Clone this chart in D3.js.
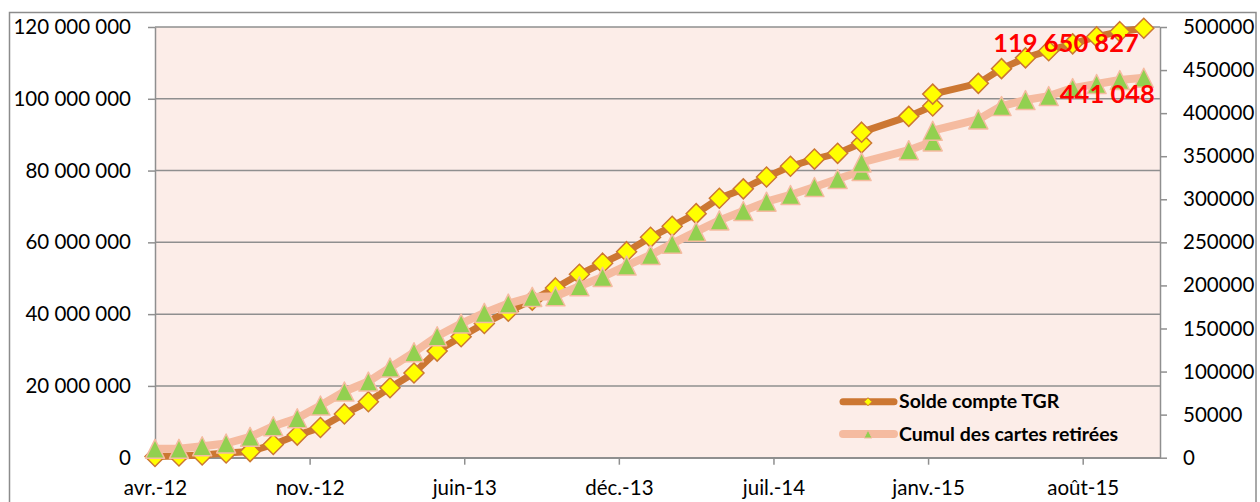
<!DOCTYPE html>
<html><head><meta charset="utf-8">
<script src="https://cdn.jsdelivr.net/npm/d3@7"></script>
<style>body{margin:0;background:#fff;}svg{display:block;}</style>
</head><body>
<svg id="c" width="1260" height="502"></svg>
<script>
// ---- data ----
const dates = ["2012-04-30","2012-05-31","2012-06-30","2012-07-31","2012-08-31","2012-09-30","2012-10-31","2012-11-30","2012-12-31",
  "2013-01-31","2013-02-28","2013-03-31","2013-04-30","2013-05-31","2013-06-30","2013-07-31","2013-08-31","2013-09-30","2013-10-31","2013-11-30","2013-12-31",
  "2014-01-31","2014-02-28","2014-03-31","2014-04-30","2014-05-31","2014-06-30","2014-07-31","2014-08-31","2014-09-30","2014-10-31","2014-10-31","2014-12-31",
  "2015-01-31","2015-01-31","2015-03-31","2015-04-30","2015-05-31","2015-06-30","2015-07-31","2015-08-31","2015-09-30","2015-10-31"];
const solde = [330000,470000,750000,1300000,1700000,3700000,6300000,8400000,12200000,15600000,19500000,23600000,29700000,33700000,
  37400000,40800000,43900000,47300000,51100000,54200000,57400000,61400000,64500000,68000000,72300000,74900000,78200000,81200000,
  83200000,84800000,87700000,90700000,95100000,98000000,101300000,104300000,108400000,111400000,113400000,115300000,117300000,118700000,119650827];
const cartes = [10300,10300,13300,16500,24200,36500,45800,60600,76800,88400,104600,122400,141000,155700,168100,178900,186700,187400,
  199000,209900,223000,235400,248500,262400,275500,286400,297200,305000,314300,323500,332800,342800,357000,367200,379600,392700,
  408200,415200,419800,429100,433800,438400,441048];
const seriesNames = ["Solde compte TGR","Cumul des cartes retirées"];
const xTickLabels = ["avr.-12","nov.-12","juin-13","déc.-13","juil.-14","janv.-15","août-15"];
const leftTicks = [0,20000000,40000000,60000000,80000000,100000000,120000000];
const rightTicks = [0,50000,100000,150000,200000,250000,300000,350000,400000,450000,500000];
const lastLabels = ["119 650 827","441 048"];

// ---- layout ----
const L = 155, R = 1160, T = 27, B = 457.7;
const parse = d3.utcParse("%Y-%m-%d");
const D0 = parse(dates[0]);
const stepDays = 200;
const x = d3.scaleUtc().domain([D0, d3.utcDay.offset(D0, stepDays * 6.5)]).range([L, R]);
const yL = d3.scaleLinear().domain([0, 120000000]).range([B, T]);
const yR = d3.scaleLinear().domain([0, 500000]).range([B, T]);
const xTicks = xTickLabels.map((_, i) => d3.utcDay.offset(D0, i * stepDays));

const svg = d3.select("#c");
const font = "Lato, 'Open Sans', sans-serif";
const grid = "#8f8f8f";

svg.append("rect").attr("width",1260).attr("height",502).attr("fill","#fff");
svg.append("rect").attr("x",9.5).attr("y",12.5).attr("width",1246.5).attr("height",520)
  .attr("fill","none").attr("stroke","#8c8c8c").attr("stroke-width",1.5);
svg.append("rect").attr("x",L).attr("y",T).attr("width",R-L).attr("height",B-T).attr("fill","#FCEDE8");

// gridlines
svg.append("g").selectAll("line").data(leftTicks).join("line")
  .attr("x1",L).attr("x2",R).attr("y1",d=>yL(d)).attr("y2",d=>yL(d))
  .attr("stroke",grid).attr("stroke-width",1.5);

// axes
function styleAxis(g){
  g.select(".domain").attr("stroke",grid).attr("stroke-width",1.5);
  g.selectAll(".tick line").attr("stroke",grid).attr("stroke-width",1.5);
  g.selectAll("text").attr("font-family",font).attr("font-size","20.5px").attr("fill","#000");
}
const gl = svg.append("g").attr("transform",`translate(${L},0)`)
  .call(d3.axisLeft(yL).tickValues(leftTicks).tickSize(7).tickPadding(17).tickSizeOuter(0)
    .tickFormat(d => d3.format(",")(d).replace(/,/g," ")));
styleAxis(gl);
const gr = svg.append("g").attr("transform",`translate(${R},0)`)
  .call(d3.axisRight(yR).tickValues(rightTicks).tickSize(7).tickPadding(16).tickSizeOuter(0).tickFormat(d3.format("d")));
styleAxis(gr);
const gb = svg.append("g").attr("transform",`translate(0,${B})`)
  .call(d3.axisBottom(x).tickValues(xTicks).tickSize(7).tickPadding(16).tickSizeOuter(0)
    .tickFormat((d,i) => xTickLabels[i]));
styleAxis(gb);

// series
const data = dates.map((d,i) => ({date: parse(d), s: solde[i], c: cartes[i]}));
const c1 = "#CC7732", c2 = "#F5BBA0";
svg.append("path").datum(data).attr("fill","none").attr("stroke",c1).attr("stroke-width",7)
  .attr("stroke-linejoin","round").attr("stroke-linecap","round")
  .attr("d", d3.line().x(d=>x(d.date)).y(d=>yL(d.s)));
const diamond = r => `M0,${-r}L${r},0L0,${r}L${-r},0Z`;
const tri = s => `M0,${-s/2}L${s/2},${s/2}L${-s/2},${s/2}Z`;
svg.append("g").selectAll("path").data(data).join("path")
  .attr("transform", d => `translate(${x(d.date)},${yL(d.s)})`)
  .attr("d", diamond(10)).attr("fill","#FFFF00").attr("stroke",c1).attr("stroke-width",1.5);

svg.append("path").datum(data).attr("fill","none").attr("stroke",c2).attr("stroke-width",8)
  .attr("stroke-linejoin","round").attr("stroke-linecap","round")
  .attr("d", d3.line().x(d=>x(d.date)).y(d=>yR(d.c)));
svg.append("g").selectAll("path").data(data).join("path")
  .attr("transform", d => `translate(${x(d.date)},${yR(d.c)})`)
  .attr("d", tri(19)).attr("fill","#92D050").attr("stroke",c2).attr("stroke-width",1.5).attr("stroke-linejoin","round");

// last value labels
const last = data[data.length-1];
svg.append("text").attr("x", x(last.date) - 5).attr("y", yL(last.s) + 24)
  .attr("text-anchor","end").attr("font-family",font).attr("font-weight","bold").attr("font-size","25.5px")
  .attr("fill","#FF0000").text(lastLabels[0]);
svg.append("text").attr("x", x(last.date) + 11).attr("y", yR(last.c) + 25.5)
  .attr("text-anchor","end").attr("font-family",font).attr("font-weight","bold").attr("font-size","25.5px")
  .attr("fill","#FF0000").text(lastLabels[1]);

// legend
const lg = svg.append("g");
const legY = [401.7, 434];
seriesNames.forEach((name,i) => {
  const g = lg.append("g").attr("transform",`translate(0,${legY[i]})`);
  g.append("line").attr("x1",843).attr("x2",894).attr("stroke", i ? c2 : c1)
    .attr("stroke-width", i ? 8 : 7).attr("stroke-linecap","round");
  if (i === 0) g.append("path").attr("transform","translate(868,0)").attr("d",diamond(4))
    .attr("fill","#FFFF00").attr("stroke",c1).attr("stroke-width",1);
  else g.append("path").attr("transform","translate(868,0)").attr("d",tri(8))
    .attr("fill","#92D050").attr("stroke",c2).attr("stroke-width",1);
  g.append("text").attr("x",899).attr("y",6.5).attr("font-family",font).attr("font-weight","bold")
    .attr("font-size","19.5px").attr("fill","#000").text(name);
});
</script>
</body></html>
